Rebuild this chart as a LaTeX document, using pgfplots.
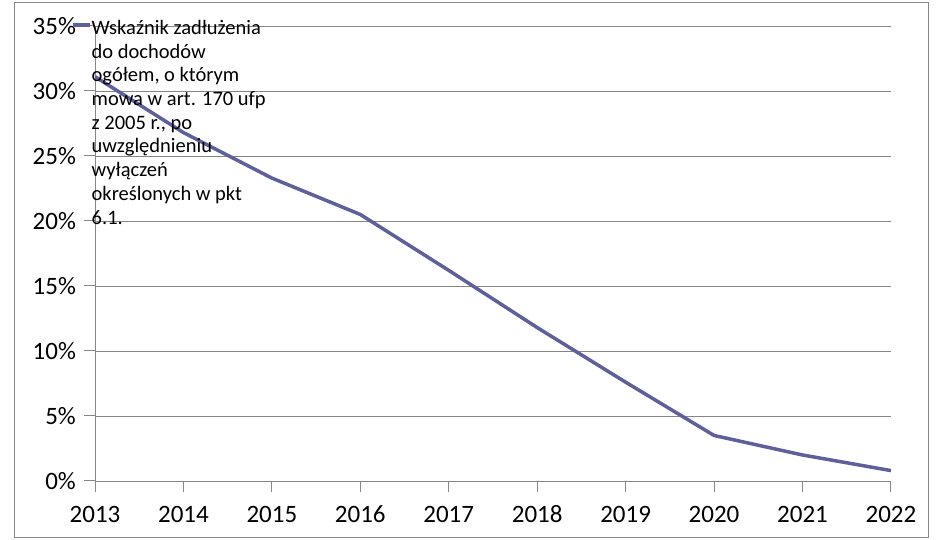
\documentclass[border=0pt]{standalone}
\usepackage{fontspec}
\setmainfont{Carlito}
\usepackage{pgfplots}
\pgfplotsset{compat=1.18}
\definecolor{linecol}{RGB}{95,95,155}
\definecolor{gridcol}{RGB}{134,134,134}
\begin{document}
\begin{tikzpicture}[x=1bp,y=1bp]
\useasboundingbox (0,0) rectangle (936,540);
\draw[gridcol, line width=0.8bp] (14,2.5) rectangle (928,537.5);
\begin{axis}[
  at={(95bp,59bp)}, anchor=south west,
  scale only axis, width=796bp, height=455bp,
  xmin=2013, xmax=2022, ymin=0, ymax=35,
  axis x line*=bottom, axis y line*=left,
  xtick={2013,...,2022}, ytick={0,5,...,35},
  ymajorgrids,
  grid style={gridcol, line width=0.8bp},
  axis line style={gridcol, line width=0.8bp},
  major tick length=11bp,
  tick align=outside,
  xtick style={draw=gridcol, line width=1bp},
  ytick style={draw=gridcol, line width=1bp},
  ticklabel style={font=\fontsize{25bp}{30bp}\selectfont, text=black},
  xticklabel style={anchor=north, text height=17bp, text depth=0bp, yshift=-10bp, /pgf/number format/1000 sep={}},
  yticklabel style={anchor=east, inner sep=0pt, xshift=-8bp},
  /pgf/number format/assume math mode=true,
  yticklabel={\pgfmathprintnumber{\tick}\%},
  legend style={draw=none, fill=none, inner sep=0pt, at={(rel axis cs:0,1)},
    anchor=north west, xshift=-24bp, yshift=8bp,
    font=\fontsize{20.5bp}{23.7bp}\selectfont},
  legend cell align=left,
  legend image code/.code={\draw[#1, line width=3.5bp, overlay] (0bp,0.6ex) -- (17bp,0.6ex); \path (0bp,0.6ex) (15bp,0.6ex);},
]
\addplot[linecol, line width=3.5bp] coordinates {
  (2013,31.1) (2014,26.8) (2015,23.3) (2016,20.5) (2017,16.2)
  (2018,11.8) (2019,7.6) (2020,3.5) (2021,2.0) (2022,0.8)
};
\addlegendentry{\parbox[t]{210bp}{\fontsize{20.5bp}{23.7bp}\selectfont Wskaźnik zadłużenia\\ do dochodów\\ ogółem, o którym\\ mowa w art. 170 ufp\\ z 2005 r., po\\ uwzględnieniu\\ wyłączeń\\ określonych w pkt\\ 6.1.}}
\end{axis}
\end{tikzpicture}
\end{document}
